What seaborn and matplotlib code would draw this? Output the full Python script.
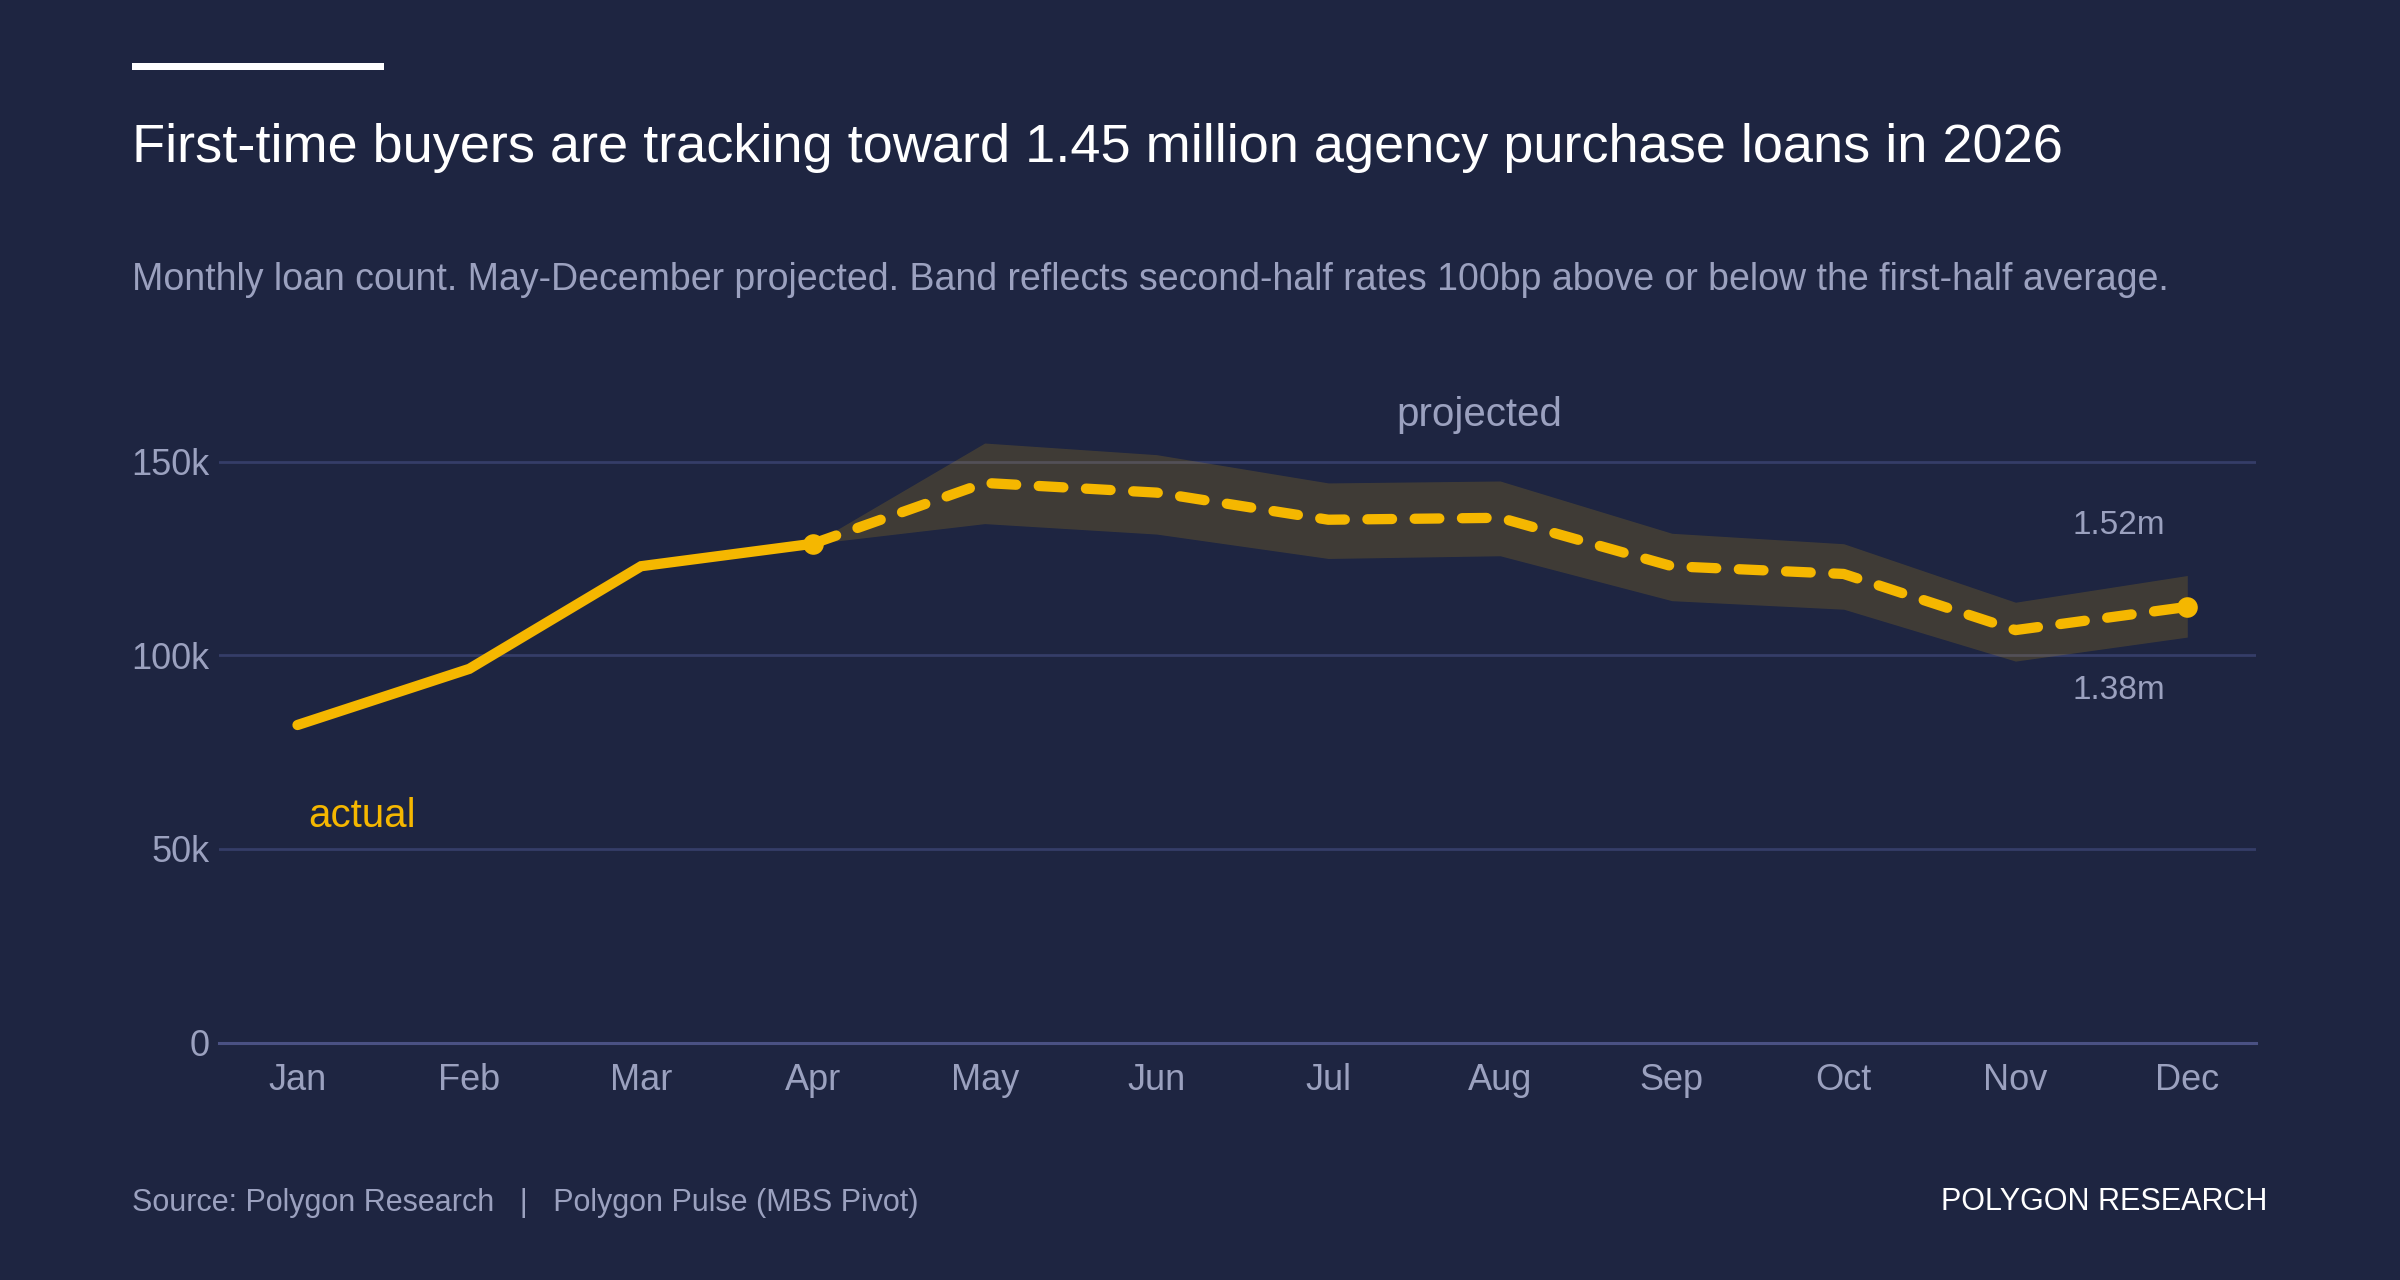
import matplotlib
matplotlib.use("Agg")
import matplotlib.pyplot as plt
import matplotlib.patches as mpatches
import seaborn as sns
import pandas as pd

# ---------------- data ----------------
months = ["Jan", "Feb", "Mar", "Apr", "May", "Jun", "Jul", "Aug", "Sep", "Oct", "Nov", "Dec"]
actual_months = ["Jan", "Feb", "Mar", "Apr"]
actual_values = [82000, 96500, 123000, 128800]
proj_months = ["Apr", "May", "Jun", "Jul", "Aug", "Sep", "Oct", "Nov", "Dec"]
proj_values = [128800, 144500, 142000, 135000, 135500, 123000, 121000, 106500, 112500]
band_upper = [128800, 154800, 151800, 144500, 145000, 131500, 128800, 113700, 120600]
band_lower = [128800, 134000, 131300, 125000, 125700, 114100, 111900, 98500, 104700]
y_ticks = [0, 50000, 100000, 150000]
y_tick_labels = ["0", "50k", "100k", "150k"]

title = "First-time buyers are tracking toward 1.45 million agency purchase loans in 2026"
subtitle = ("Monthly loan count. May-December projected. Band reflects second-half rates "
            "100bp above or below the first-half average.")
source = "Source: Polygon Research   |   Polygon Pulse (MBS Pivot)"
brand = "POLYGON RESEARCH"

# ---------------- style ----------------
BG = "#1e2541"
YEL = "#f5b700"
GREY = "#9ba1bf"
GRID = "#353d68"
BASE = "#4a5183"

sns.set_theme(style="white")
plt.rcParams["font.family"] = ["Liberation Sans", "DejaVu Sans"]
plt.rcParams["figure.facecolor"] = BG
plt.rcParams["axes.facecolor"] = BG

actual_df = pd.DataFrame({"x": [months.index(m) for m in actual_months], "y": actual_values})
proj_df = pd.DataFrame({"x": [months.index(m) for m in proj_months], "y": proj_values,
                        "lo": band_lower, "hi": band_upper})

fig = plt.figure(figsize=(12, 6.4), dpi=200)
ax = fig.add_axes([219 / 2400, 1 - 1042.6 / 1280, (2256 - 219) / 2400, (1042.6 - 422.9) / 1280])
ax.set_facecolor(BG)

# grid lines
for t in y_ticks[1:]:
    ax.axhline(t, color=GRID, lw=1.0, zorder=0)

# band
ax.fill_between(proj_df["x"], proj_df["lo"], proj_df["hi"], color=YEL, alpha=0.155,
                lw=0, zorder=1)

# lines
sns.lineplot(data=actual_df, x="x", y="y", ax=ax, color=YEL, lw=3.7,
             solid_capstyle="round", solid_joinstyle="miter", zorder=3)
sns.lineplot(data=proj_df, x="x", y="y", ax=ax, color=YEL, lw=3.7,
             dashes=(2.4, 2.2), dash_capstyle="round", zorder=3)
ends = proj_df.iloc[[0, -1]]
sns.scatterplot(data=ends, x="x", y="y", ax=ax, color=YEL, s=55, linewidth=0, zorder=4)

ax.set_xlim(-0.457, 11.40)
ax.set_ylim(0, 160000)
ax.set_xticks(range(len(months)))
ax.set_xticklabels(months)
ax.set_yticks(y_ticks)
ax.set_yticklabels(y_tick_labels)
ax.set_xlabel("")
ax.set_ylabel("")
for s in ["top", "right", "left"]:
    ax.spines[s].set_visible(False)
ax.spines["bottom"].set_color(BASE)
ax.spines["bottom"].set_linewidth(1.1)
ax.tick_params(axis="x", colors=BASE, labelcolor=GREY, labelsize=13, length=3.8,
               width=1.0, direction="out", pad=3.5)
ax.tick_params(axis="y", colors=BASE, labelcolor=GREY, labelsize=13, length=4.3,
               width=1.0, direction="in", pad=3.5)

# annotations
ax.text(0.06, 55600, "actual", color=YEL, fontsize=14.5, ha="left", va="baseline")
ax.text(6.88, 159200, "projected", color=GREY, fontsize=14.5, ha="center", va="baseline",
        clip_on=False)
ax.text(10.6, 131300, "1.52m", color=GREY, fontsize=12, ha="center", va="baseline")
ax.text(10.6, 88700, "1.38m", color=GREY, fontsize=12, ha="center", va="baseline")

# header / footer
fig.patches.append(mpatches.Rectangle((132 / 2400, 1 - 70 / 1280), (384 - 132) / 2400, 7 / 1280,
                                      transform=fig.transFigure, color="white", lw=0))
fig.text(132 / 2400, 1 - 161.7 / 1280, title, color="white", fontsize=19.5, va="baseline", ha="left")
fig.text(132 / 2400, 1 - 290 / 1280, subtitle, color=GREY, fontsize=13.5, va="baseline", ha="left")
fig.text(132 / 2400, 1 - 1210.5 / 1280, source, color=GREY, fontsize=11, va="baseline", ha="left")
fig.text(2267 / 2400, 1 - 1210.5 / 1280, brand, color="white", fontsize=11, va="baseline", ha="right")

fig.savefig("out.png", dpi=200, facecolor=BG)
